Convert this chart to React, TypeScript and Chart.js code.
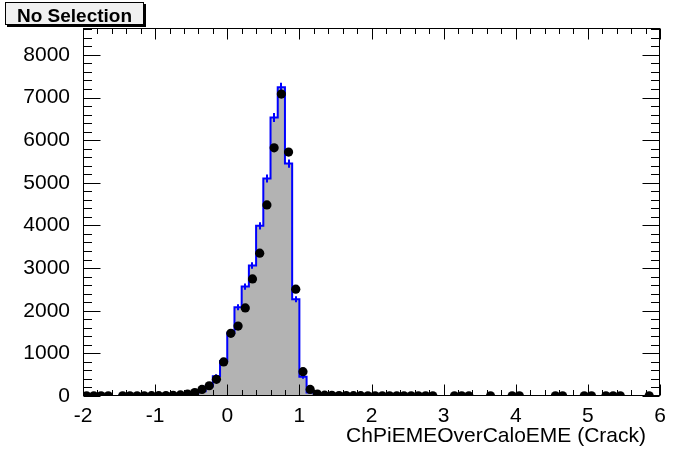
import React, { useEffect, useRef } from "react";
import { Chart, registerables } from "chart.js";

Chart.register(...registerables);

// ---- axis definition ----
const X_MIN = -2;
const X_MAX = 6;
const BIN_WIDTH = 0.1;
const Y_MAX = 8630;
const xTickValues = [-2, -1, 0, 1, 2, 3, 4, 5, 6];
const xTickLabels = ["-2", "-1", "0", "1", "2", "3", "4", "5", "6"];
const yTickValues = [0, 1000, 2000, 3000, 4000, 5000, 6000, 7000, 8000];
const yTickLabels = ["0", "1000", "2000", "3000", "4000", "5000", "6000", "7000", "8000"];
const xAxisTitle = "ChPiEMEOverCaloEME (Crack)";
const legendLabel = "No Selection";

// ---- histogram (MC, grey with blue outline), 80 bins of 0.1 from -2 to 6 ----
const mcCounts = [
  3, 3, 3, 3, 0, 3, 3, 4, 4, 5, 6, 8, 12, 20,
  40, 65, 110, 230, 465, 820,
  1485, 2080, 2565, 3060, 3990, 5100, 6530, 7240, 5450, 2270,
  450, 80, 30, 15,
  10, 8, 6, 5, 5, 4, 4, 3, 3, 3, 2, 2, 2, 2, 1, 1,
  1, 1, 1, 1, 0, 0, 1, 0, 0, 1, 1, 0, 0, 0, 0, 1, 1, 0, 0, 1, 1, 0, 1, 1, 1, 0, 0, 0, 1, 0,
];

// ---- data points (black markers), null = empty bin ----
const dataCounts: (number | null)[] = [
  5, 5, 5, 5, null, 5, 5, 5, 5, 8, 8, 10, 15, 25,
  45, 80, 155, 240, 390, 800,
  1470, 1640, 2065, 2745, 3350, 4480, 5820, 7080, 5720, 2505,
  570, 155, 45,
  20, 15, 12, 10, 8, 8, 6, 6, 5, 5, 5, 5, 5, 5, 5, 5,
  null, null, 5, 5, 5, null, null, 5, null, null, 5, 5, null, null, null, null,
  5, 5, null, null, 5, 5, null, 5, 5, 5, null, null, null, 5, null,
];

const FONT = "'Liberation Sans', Arial, Helvetica, sans-serif";

const rootStylePlugin = {
  id: "rootStyle",
  afterDatasetDraw(chart: any, args: any) {
    if (args.index !== 0) return;
    const { ctx, scales } = chart;
    const xs = scales.x;
    const ys = scales.y;
    ctx.save();
    ctx.strokeStyle = "#0000ff";
    ctx.lineWidth = 2;
    mcCounts.forEach((v, i) => {
      if (v < 300) return;
      const c = X_MIN + (i + 0.5) * BIN_WIDTH;
      const px = Math.round(xs.getPixelForValue(c));
      const e = Math.sqrt(v);
      ctx.beginPath();
      ctx.moveTo(px, ys.getPixelForValue(v - e) + 1);
      ctx.lineTo(px, ys.getPixelForValue(v + e) - 1);
      ctx.stroke();
    });
    ctx.restore();
  },
  afterDraw(chart: any) {
    const { ctx, chartArea, scales } = chart;
    const xs = scales.x;
    const ys = scales.y;
    const L = Math.round(chartArea.left) + 0.5;
    const R = Math.round(chartArea.right) - 0.5;
    const T = Math.round(chartArea.top) + 0.5;
    const B = Math.round(chartArea.bottom) - 0.5;
    ctx.save();
    ctx.strokeStyle = "#000";
    ctx.lineWidth = 1;
    ctx.strokeRect(L, T, R - L, B - T);

    // x ticks (bottom & top, inward)
    ctx.beginPath();
    for (let k = 0; k <= 40; k++) {
      const v = X_MIN + k * 0.2;
      const px = Math.round(xs.getPixelForValue(v)) + 0.5;
      const len = k % 5 === 0 ? 11 : 5.5;
      ctx.moveTo(px, B);
      ctx.lineTo(px, B - len);
      ctx.moveTo(px, T);
      ctx.lineTo(px, T + len);
    }
    // y ticks (left & right, inward)
    for (let v = 0; v <= Y_MAX; v += 200) {
      const py = Math.round(ys.getPixelForValue(v)) + 0.5;
      const len = v % 1000 === 0 ? 17 : 8.5;
      ctx.moveTo(L, py);
      ctx.lineTo(L + len, py);
      ctx.moveTo(R, py);
      ctx.lineTo(R - len, py);
    }
    ctx.stroke();

    // x axis title
    ctx.fillStyle = "#000";
    ctx.font = `21px ${FONT}`;
    ctx.textAlign = "right";
    ctx.textBaseline = "alphabetic";
    ctx.fillText(xAxisTitle, 646, 441.5);

    // legend / title box
    const bx = 5, by = 2, bw = 139, bh = 23;
    ctx.fillStyle = "#000";
    ctx.fillRect(bx + 2, by + 2, bw, bh);
    ctx.fillStyle = "#f0f0f0";
    ctx.fillRect(bx, by, bw, bh);
    ctx.strokeStyle = "#000";
    ctx.lineWidth = 1;
    ctx.strokeRect(bx + 0.5, by + 0.5, bw - 1, bh - 1);
    ctx.fillStyle = "#000";
    ctx.font = `bold 19px ${FONT}`;
    ctx.textAlign = "center";
    ctx.fillText(legendLabel, bx + bw / 2, 21.5);
    ctx.restore();
  },
};

export default function App() {
  const canvasRef = useRef<HTMLCanvasElement | null>(null);

  useEffect(() => {
    const canvas = canvasRef.current;
    if (!canvas) return;

    const histPoints = mcCounts.map((v, i) => ({ x: X_MIN + i * BIN_WIDTH, y: v }));
    histPoints.push({ x: X_MAX, y: mcCounts[mcCounts.length - 1] });

    const dataPoints = dataCounts.map((v, i) => ({
      x: X_MIN + (i + 0.5) * BIN_WIDTH,
      y: v,
    }));

    const chart = new Chart(canvas, {
      type: "line",
      data: {
        datasets: [
          {
            label: "MC",
            data: histPoints as any,
            stepped: "before",
            borderColor: "#0000ff",
            borderWidth: 2,
            backgroundColor: "#b3b3b3",
            fill: "origin",
            pointRadius: 0,
            order: 2,
          },
          {
            label: "Data",
            data: dataPoints as any,
            showLine: false,
            pointRadius: 4.6,
            pointBackgroundColor: "#000",
            pointBorderColor: "#000",
            pointBorderWidth: 0,
            order: 1,
          },
        ],
      },
      options: {
        responsive: false,
        animation: false,
        events: [],
        layout: { padding: { top: 28, right: 36, left: 0, bottom: 0 } },
        plugins: {
          legend: { display: false },
          tooltip: { enabled: false },
        },
        scales: {
          x: {
            type: "linear",
            min: X_MIN,
            max: X_MAX,
            grid: { display: false },
            border: { display: false },
            afterBuildTicks: (s: any) => {
              s.ticks = xTickValues.map((v) => ({ value: v }));
            },
            afterFit: (s: any) => {
              s.height = 76;
            },
            ticks: {
              autoSkip: false,
              maxRotation: 0,
              padding: 0,
              color: "#000",
              font: { family: FONT, size: 21 },
              callback: (v: any) => xTickLabels[xTickValues.indexOf(Math.round(Number(v)))] ?? "",
            },
          },
          y: {
            type: "linear",
            min: 0,
            max: Y_MAX,
            grid: { display: false },
            border: { display: false },
            afterBuildTicks: (s: any) => {
              s.ticks = yTickValues.map((v) => ({ value: v }));
            },
            afterFit: (s: any) => {
              s.width = 83;
            },
            ticks: {
              autoSkip: false,
              padding: 5,
              color: "#000",
              font: { family: FONT, size: 21 },
              callback: (v: any) => yTickLabels[yTickValues.indexOf(Math.round(Number(v)))] ?? "",
            },
          },
        },
      },
      plugins: [rootStylePlugin],
    });

    return () => chart.destroy();
  }, []);

  return (
    <div style={{ position: "absolute", left: 0, top: 0, width: 696, height: 472, background: "#fff" }}>
      <canvas ref={canvasRef} width={696} height={472} style={{ display: "block" }} />
    </div>
  );
}
